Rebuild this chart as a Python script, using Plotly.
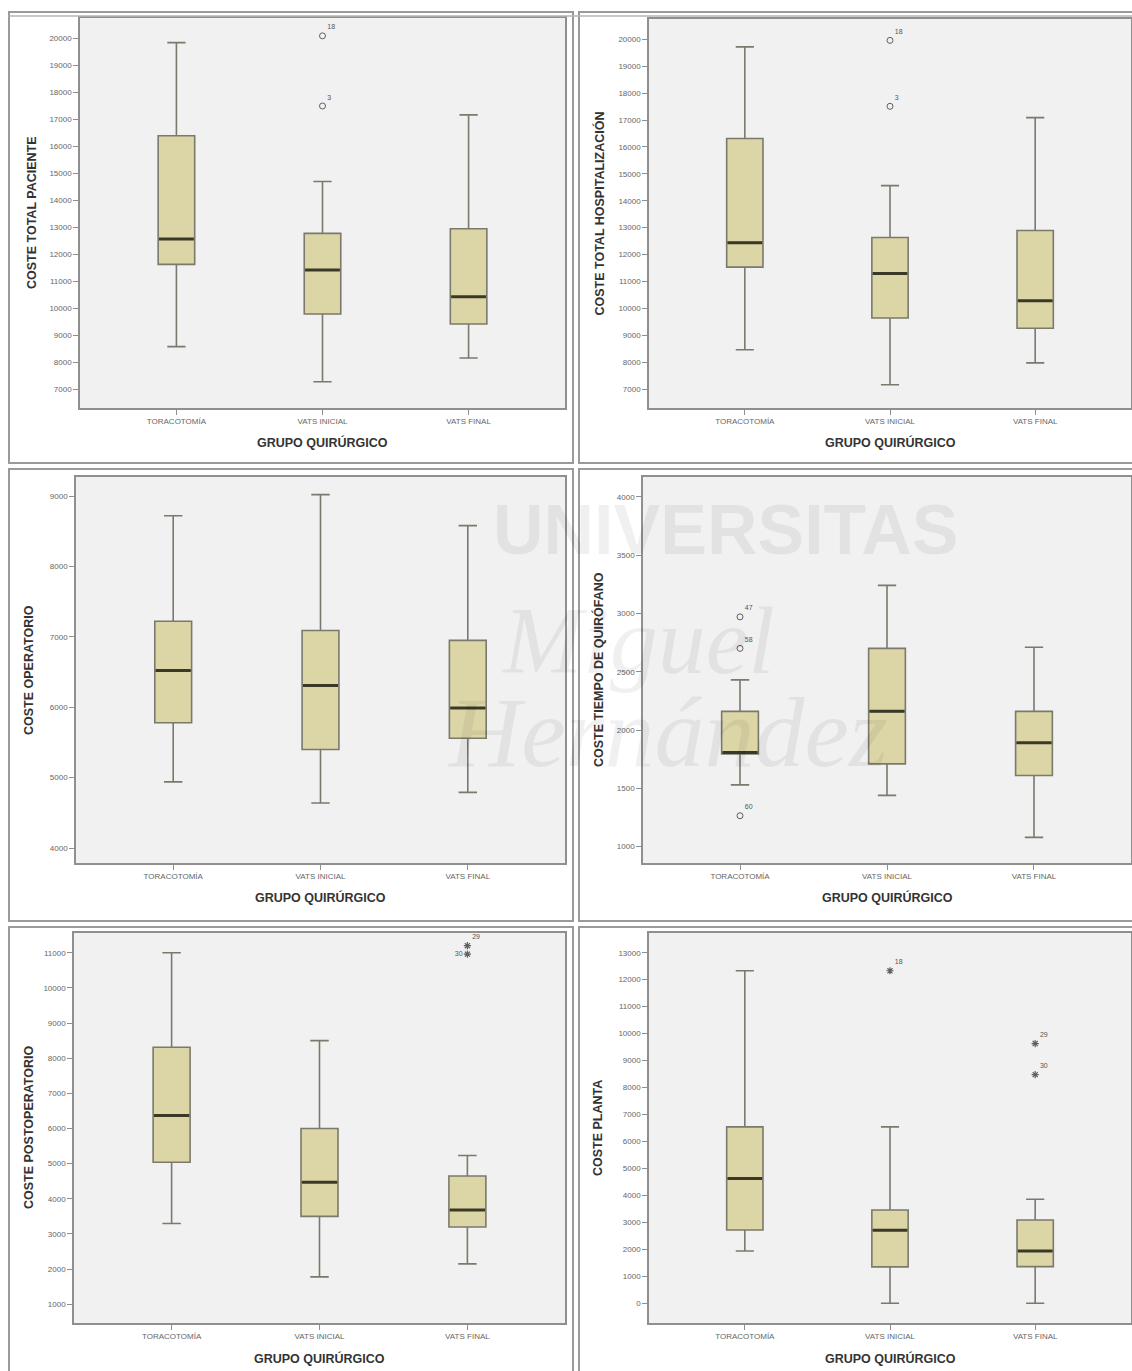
import plotly.graph_objects as go

# ---------------- data ----------------
categories = ["TORACOTOMÍA", "VATS INICIAL", "VATS FINAL"]
x_axis_title = "GRUPO QUIRÚRGICO"

paciente_title = "COSTE TOTAL PACIENTE"
paciente_low = [8570, 7270, 8150]
paciente_q1 = [11620, 9780, 9410]
paciente_median = [12560, 11410, 10420]
paciente_q3 = [16390, 12770, 12940]
paciente_high = [19840, 14690, 17160]
paciente_outlier_group = [1, 1]
paciente_outlier_value = [20090, 17490]
paciente_outlier_label = ["18", "3"]
paciente_extreme_group = []
paciente_extreme_value = []
paciente_extreme_label = []
paciente_ticks = [7000, 8000, 9000, 10000, 11000, 12000, 13000, 14000, 15000, 16000, 17000, 18000, 19000, 20000]

hosp_title = "COSTE TOTAL HOSPITALIZACIÓN"
hosp_low = [8460, 7160, 7970]
hosp_q1 = [11530, 9640, 9260]
hosp_median = [12440, 11290, 10280]
hosp_q3 = [16310, 12630, 12890]
hosp_high = [19720, 14560, 17090]
hosp_outlier_group = [1, 1]
hosp_outlier_value = [19960, 17510]
hosp_outlier_label = ["18", "3"]
hosp_extreme_group = []
hosp_extreme_value = []
hosp_extreme_label = []
hosp_ticks = [7000, 8000, 9000, 10000, 11000, 12000, 13000, 14000, 15000, 16000, 17000, 18000, 19000, 20000]

oper_title = "COSTE OPERATORIO"
oper_low = [4940, 4640, 4790]
oper_q1 = [5780, 5400, 5560]
oper_median = [6520, 6310, 5990]
oper_q3 = [7220, 7090, 6950]
oper_high = [8720, 9020, 8580]
oper_outlier_group = []
oper_outlier_value = []
oper_outlier_label = []
oper_extreme_group = []
oper_extreme_value = []
oper_extreme_label = []
oper_ticks = [4000, 5000, 6000, 7000, 8000, 9000]

quir_title = "COSTE TIEMPO DE QUIRÓFANO"
quir_low = [1530, 1440, 1080]
quir_q1 = [1795, 1710, 1610]
quir_median = [1808, 2160, 1890]
quir_q3 = [2160, 2700, 2160]
quir_high = [2430, 3240, 2710]
quir_outlier_group = [0, 0, 0]
quir_outlier_value = [2970, 2700, 1265]
quir_outlier_label = ["47", "58", "60"]
quir_extreme_group = []
quir_extreme_value = []
quir_extreme_label = []
quir_ticks = [1000, 1500, 2000, 2500, 3000, 3500, 4000]

post_title = "COSTE POSTOPERATORIO"
post_low = [3300, 1780, 2150]
post_q1 = [5040, 3500, 3200]
post_median = [6370, 4470, 3680]
post_q3 = [8310, 6000, 4650]
post_high = [11000, 8500, 5230]
post_outlier_group = []
post_outlier_value = []
post_outlier_label = []
post_extreme_group = [2, 2]
post_extreme_value = [11200, 10960]
post_extreme_label = ["29", "30"]
post_ticks = [1000, 2000, 3000, 4000, 5000, 6000, 7000, 8000, 9000, 10000, 11000]

planta_title = "COSTE PLANTA"
planta_low = [1940, 0, 0]
planta_q1 = [2720, 1350, 1360]
planta_median = [4630, 2710, 1940]
planta_q3 = [6540, 3460, 3090]
planta_high = [12330, 6540, 3860]
planta_outlier_group = []
planta_outlier_value = []
planta_outlier_label = []
planta_extreme_group = [1, 2, 2]
planta_extreme_value = [12330, 9630, 8480]
planta_extreme_label = ["18", "29", "30"]
planta_ticks = [0, 1000, 2000, 3000, 4000, 5000, 6000, 7000, 8000, 9000, 10000, 11000, 12000, 13000]

watermark_lines = ["UNIVERSITAS", "Miguel", "Hernández"]

# ---------------- style / layout ----------------
W, H = 1132, 1371
FONT = "Liberation Sans, Arial, sans-serif"
BOX_FILL = "#dcd6a7"
BOX_LINE = "#7a796c"
MEDIAN_COLOR = "#3a3928"
POINT_COLOR = "#5f5f5f"
AXIS_COLOR = "#8f8f8f"
TICK_FONT = dict(family=FONT, size=8, color="#666666")
TITLE_FONT = dict(family=FONT, size=12.5, color="#333333", weight="bold")
LABEL_FONT = dict(family=FONT, size=7, color="#555555")
FRAME_COLOR = "#9a9a9a"

panels = [
    dict(title=paciente_title, low=paciente_low, q1=paciente_q1, med=paciente_median, q3=paciente_q3,
         high=paciente_high, og=paciente_outlier_group, ov=paciente_outlier_value, ol=paciente_outlier_label,
         eg=paciente_extreme_group, ev=paciente_extreme_value, el=paciente_extreme_label, ticks=paciente_ticks,
         px=(80, 565), py=(18, 408), yr=(6296, 20752), tx=32),
    dict(title=hosp_title, low=hosp_low, q1=hosp_q1, med=hosp_median, q3=hosp_q3,
         high=hosp_high, og=hosp_outlier_group, ov=hosp_outlier_value, ol=hosp_outlier_label,
         eg=hosp_extreme_group, ev=hosp_extreme_value, el=hosp_extreme_label, ticks=hosp_ticks,
         px=(649, 1131), py=(19, 408), yr=(6294, 20755), tx=599),
    dict(title=oper_title, low=oper_low, q1=oper_q1, med=oper_median, q3=oper_q3,
         high=oper_high, og=oper_outlier_group, ov=oper_outlier_value, ol=oper_outlier_label,
         eg=oper_extreme_group, ev=oper_extreme_value, el=oper_extreme_label, ticks=oper_ticks,
         px=(76, 565), py=(477, 863), yr=(3787, 9270), tx=29),
    dict(title=quir_title, low=quir_low, q1=quir_q1, med=quir_median, q3=quir_q3,
         high=quir_high, og=quir_outlier_group, ov=quir_outlier_value, ol=quir_outlier_label,
         eg=quir_extreme_group, ev=quir_extreme_value, el=quir_extreme_label, ticks=quir_ticks,
         px=(643, 1131), py=(477, 863), yr=(860, 4169), tx=598),
    dict(title=post_title, low=post_low, q1=post_q1, med=post_median, q3=post_q3,
         high=post_high, og=post_outlier_group, ov=post_outlier_value, ol=post_outlier_label,
         eg=post_extreme_group, ev=post_extreme_value, el=post_extreme_label, ticks=post_ticks,
         px=(74, 565), py=(933, 1323), yr=(468, 11560), tx=29),
    dict(title=planta_title, low=planta_low, q1=planta_q1, med=planta_median, q3=planta_q3,
         high=planta_high, og=planta_outlier_group, ov=planta_outlier_value, ol=planta_outlier_label,
         eg=planta_extreme_group, ev=planta_extreme_value, el=planta_extreme_label, ticks=planta_ticks,
         px=(649, 1131), py=(933, 1323), yr=(-730, 13730), tx=598),
]

positions = list(range(len(categories)))
BOX_W = 0.25

fig = go.Figure()
annotations = []
layout_axes = {}

for i, p in enumerate(panels, start=1):
    xa = "x" if i == 1 else f"x{i}"
    ya = "y" if i == 1 else f"y{i}"
    xkey = "xaxis" if i == 1 else f"xaxis{i}"
    ykey = "yaxis" if i == 1 else f"yaxis{i}"

    fig.add_trace(go.Box(
        x=positions, q1=p["q1"], median=p["med"], q3=p["q3"],
        lowerfence=p["low"], upperfence=p["high"],
        width=BOX_W, whiskerwidth=0.5, fillcolor=BOX_FILL,
        line=dict(color=BOX_LINE, width=1.6),
        xaxis=xa, yaxis=ya, showlegend=False, hoverinfo="skip"))

    # thick dark median line
    mx, my = [], []
    for pos, m in zip(positions, p["med"]):
        mx += [pos - BOX_W / 2 + 0.006, pos + BOX_W / 2 - 0.006, None]
        my += [m, m, None]
    fig.add_trace(go.Scatter(x=mx, y=my, mode="lines",
                             line=dict(color=MEDIAN_COLOR, width=3),
                             xaxis=xa, yaxis=ya, showlegend=False, hoverinfo="skip"))

    if p["ov"]:
        fig.add_trace(go.Scatter(
            x=p["og"], y=p["ov"], mode="markers+text", text=p["ol"],
            textposition="top right", textfont=LABEL_FONT,
            marker=dict(symbol="circle-open", size=6, color=POINT_COLOR, line=dict(width=1)),
            xaxis=xa, yaxis=ya, showlegend=False, hoverinfo="skip"))
    if p["ev"]:
        tpos = []
        for k, lab in enumerate(p["el"]):
            # when two extremes nearly overlap, SPSS puts the lower label on the left
            if k > 0 and p["eg"][k] == p["eg"][k - 1] and abs(p["ev"][k] - p["ev"][k - 1]) < 0.03 * (p["yr"][1] - p["yr"][0]):
                tpos.append("middle left")
            else:
                tpos.append("top right")
        fig.add_trace(go.Scatter(
            x=p["eg"], y=p["ev"], mode="markers+text", text=p["el"],
            textposition=tpos, textfont=LABEL_FONT,
            marker=dict(symbol="asterisk-open", size=6, color=POINT_COLOR, line=dict(width=1.2, color=POINT_COLOR)),
            xaxis=xa, yaxis=ya, showlegend=False, hoverinfo="skip"))

    x0, x1 = p["px"]
    y0, y1 = p["py"]
    layout_axes[xkey] = dict(
        domain=[x0 / W, x1 / W], anchor=ya, range=[-0.66, 2.66],
        tickmode="array", tickvals=positions, ticktext=categories,
        ticks="outside", ticklen=5, tickcolor=AXIS_COLOR, tickwidth=1,
        showline=True, linecolor=AXIS_COLOR, linewidth=1.5, mirror=True,
        showgrid=False, zeroline=False, tickfont=TICK_FONT, fixedrange=True)
    layout_axes[ykey] = dict(
        domain=[1 - y1 / H, 1 - y0 / H], anchor=xa, range=list(p["yr"]),
        tickmode="array", tickvals=p["ticks"], ticktext=[str(t) for t in p["ticks"]],
        ticks="outside", ticklen=5, tickcolor=AXIS_COLOR, tickwidth=1,
        showline=True, linecolor=AXIS_COLOR, linewidth=1.5, mirror=True,
        showgrid=False, zeroline=False, tickfont=TICK_FONT, fixedrange=True)

    annotations.append(dict(
        text=x_axis_title, x=(x0 + x1) / 2 / W, y=1 - (y1 + 35) / H,
        xref="paper", yref="paper", showarrow=False, xanchor="center", yanchor="middle",
        font=TITLE_FONT))
    annotations.append(dict(
        text=p["title"], x=p["tx"] / W, y=1 - (y0 + y1) / 2 / H, textangle=-90,
        xref="paper", yref="paper", showarrow=False, xanchor="center", yanchor="middle",
        font=TITLE_FONT))

# faint document watermark
WM = "rgba(0,0,0,0.06)"
wm_specs = [
    dict(x=725, y=530, font=dict(family="Liberation Sans Narrow, Arial Narrow, Liberation Sans", size=70,
                                 color=WM, weight="bold")),
    dict(x=638, y=640, font=dict(family="Liberation Serif, serif", size=96, color=WM, style="italic")),
    dict(x=667, y=732, font=dict(family="Liberation Serif, serif", size=100, color=WM, style="italic")),
]
for txt, spec in zip(watermark_lines, wm_specs):
    annotations.append(dict(text=txt, x=spec["x"] / W, y=1 - spec["y"] / H, xref="paper", yref="paper",
                            showarrow=False, xanchor="center", yanchor="middle", font=spec["font"]))

# panel frames (double lines between neighbouring panels)
shapes = []
rows = [(12, 463), (469, 921), (927, 1400)]
cols = [(9, 573), (579, 1160)]
for (ry0, ry1) in rows:
    for (cx0, cx1) in cols:
        shapes.append(dict(type="rect", xref="paper", yref="paper",
                           x0=cx0 / W, x1=cx1 / W, y0=1 - ry1 / H, y1=1 - ry0 / H,
                           line=dict(color=FRAME_COLOR, width=2), layer="above"))
shapes.append(dict(type="line", xref="paper", yref="paper", x0=9 / W, x1=1.05, y0=1 - 16 / H, y1=1 - 16 / H,
                   line=dict(color="#b5b5b5", width=1.5), layer="above"))

fig.update_layout(
    width=W, height=H, margin=dict(l=0, r=0, t=0, b=0),
    paper_bgcolor="white", plot_bgcolor="#f1f1f1",
    showlegend=False, font=dict(family=FONT),
    annotations=annotations, shapes=shapes, **layout_axes)

fig.write_html("out.html", include_plotlyjs=True, config={"displayModeBar": False},
               post_script="document.body.style.margin='0';document.body.style.overflow='hidden';")
